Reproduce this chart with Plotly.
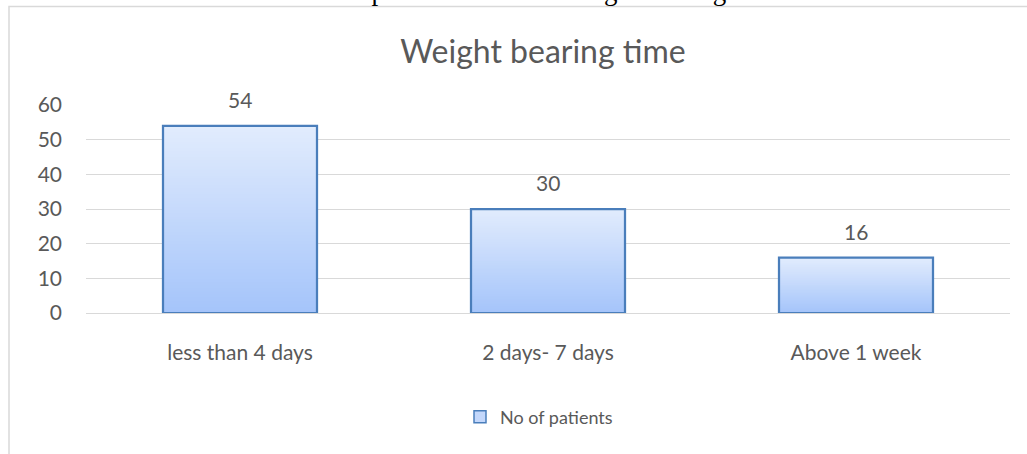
import plotly.graph_objects as go

categories = ["less than 4 days", "2 days- 7 days", "Above 1 week"]
patients = [54, 30, 16]
series_name = "No of patients"
chart_title = "Weight bearing time"
caption = "Graph 1: Duration of weight bearing"
y_ticks = [0, 10, 20, 30, 40, 50, 60]

FONT = "Lato"
GREY = "#595959"
EDGE = "#4a7ebb"
TOP_C = (0xe2, 0xec, 0xfd)
BOT_C = (0xa4, 0xc4, 0xfa)
N = 60

fig = go.Figure()

# gradient fill: overlapping slices, each from its level up to the bar top
for i in range(N):
    t = (i + 0.5) / N  # 0 bottom -> 1 top
    c = tuple(round(BOT_C[k] + (TOP_C[k] - BOT_C[k]) * t) for k in range(3))
    fig.add_trace(go.Bar(
        x=categories,
        y=[v * (N - i) / N for v in patients],
        base=[v * i / N for v in patients],
        width=0.5,
        marker=dict(color="rgb(%d,%d,%d)" % c, line=dict(width=0)),
        showlegend=False, hoverinfo="skip",
    ))

# outline
fig.add_trace(go.Bar(
    x=categories, y=patients, width=0.5,
    marker=dict(color="rgba(0,0,0,0)", line=dict(color=EDGE, width=2.25)),
    showlegend=False,
))

# legend entry
fig.add_trace(go.Bar(
    x=[categories[0]], y=[None], name=series_name,
    marker=dict(color="#c3d7fb", line=dict(color=EDGE, width=1.5)),
    showlegend=True,
))

for c, v in zip(categories, patients):
    fig.add_annotation(x=c, y=v, text=str(v), showarrow=False,
                       yanchor="bottom", yshift=12,
                       font=dict(family=FONT, size=21, color=GREY))

# chart border (cut off at right and bottom)
fig.add_shape(type="rect", xref="paper", yref="paper",
              x0=(9 - 86) / 924, x1=(1032 - 86) / 924,
              y0=(313 - 470) / 208, y1=(313 - 6.5) / 208,
              line=dict(color="#d9d9d9", width=1.5), layer="below")

fig.add_annotation(text=caption, xref="paper", yref="paper",
                   x=(528 - 86) / 924, y=(313 - 8) / 208,
                   xanchor="center", yanchor="bottom", showarrow=False,
                   font=dict(family="Liberation Serif", size=27, color="#000000"))

fig.update_layout(
    width=1027, height=454,
    margin=dict(l=86, r=17, t=105, b=141),
    paper_bgcolor="white", plot_bgcolor="white",
    barmode="overlay", bargap=0.5,
    title=dict(text=chart_title, x=543 / 1027, xanchor="center",
               y=1 - 52 / 454, yanchor="middle",
               font=dict(family=FONT, size=32, color=GREY)),
    legend=dict(orientation="h", x=(539 - 86) / 924, xanchor="center",
                y=(313 - 417) / 208, yanchor="middle",
                font=dict(family=FONT, size=18, color=GREY)),
    showlegend=True,
)
fig.update_xaxes(showgrid=False, showline=False, zeroline=False,
                 tickfont=dict(family=FONT, size=21, color=GREY),
                 ticks="", ticklabelstandoff=25)
fig.update_yaxes(range=[0, 60], tickvals=y_ticks, showgrid=True,
                 gridcolor="#d9d9d9", gridwidth=1, zeroline=True,
                 zerolinecolor="#d9d9d9", zerolinewidth=1, showline=False,
                 tickfont=dict(family=FONT, size=21, color=GREY),
                 ticks="", ticklabelstandoff=23)

fig.write_html("out.html", config={"displayModeBar": False},
               post_script="document.body.style.margin='0';")
